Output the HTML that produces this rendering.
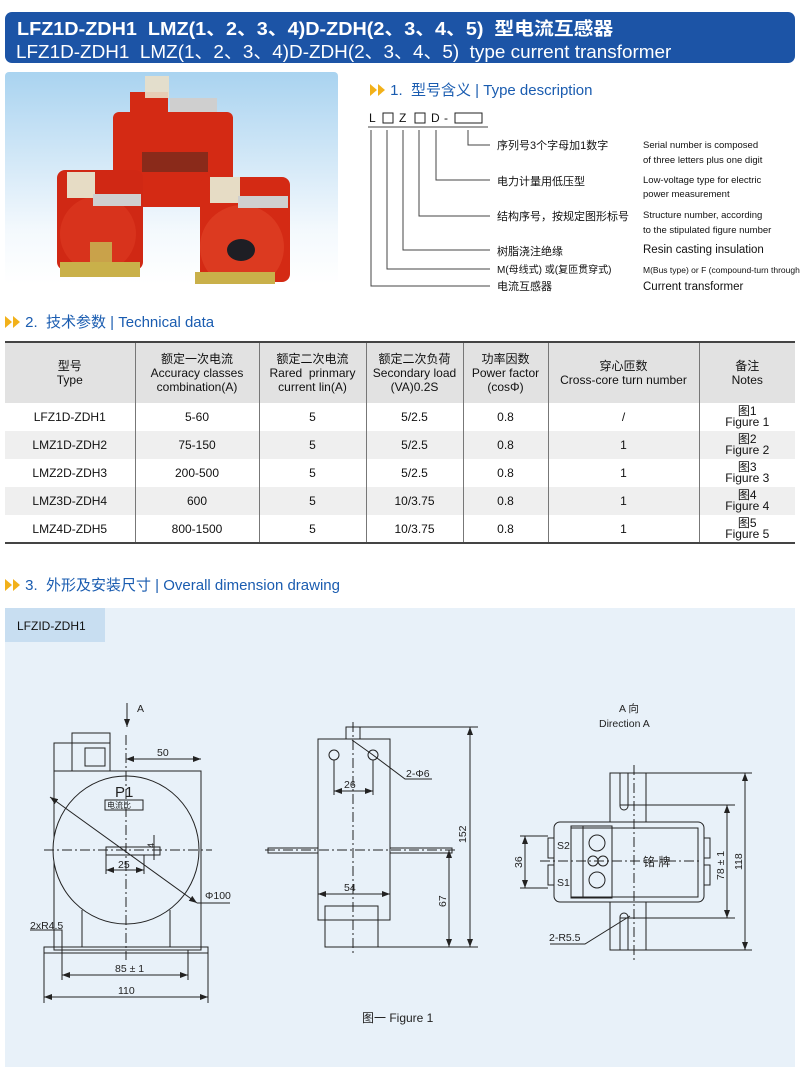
<!DOCTYPE html>
<html><head><meta charset="utf-8"><style>
body{margin:0;width:800px;height:1069px;background:#fff;position:relative;overflow:hidden;font-family:"Liberation Sans","Noto Sans CJK SC",sans-serif;}
.abs{position:absolute;}
.hdr{left:5px;top:12px;width:790px;height:51px;background:#1c54a6;border-radius:7px;color:#fff;}
.sec{color:#1a5cb0;font-size:15px;white-space:nowrap;}
.tri{display:inline-block;width:0;height:0;border-top:6px solid transparent;border-bottom:6px solid transparent;border-left:7px solid #f2b11a;margin-right:1px;vertical-align:-1px;}
table{border-collapse:collapse;font-size:12px;color:#111;}
td{text-align:center;border-left:1px solid #777;padding:0;line-height:14px;}
td:first-child{border-left:none;}
</style></head><body>
<div class="abs hdr">
<div class="abs" style="left:12px;top:3px;font-size:18px;font-weight:bold;white-space:nowrap;transform:scaleX(1.1);transform-origin:left;">LFZ1D-ZDH1&nbsp; LMZ(1、2、3、4)D-ZDH(2、3、4、5)&nbsp; 型电流互感器</div>
<div class="abs" style="left:11px;top:26px;font-size:18px;white-space:nowrap;transform:scaleX(1.05);transform-origin:left;">LFZ1D-ZDH1&nbsp; LMZ(1、2、3、4)D-ZDH(2、3、4、5)&nbsp; type current transformer</div>
</div>

<!-- photo -->
<svg class="abs" style="left:5px;top:72px" width="333" height="212">
<defs><linearGradient id="g" x1="0" y1="0" x2="0" y2="1"><stop offset="0" stop-color="#a9d3f0"/><stop offset="0.75" stop-color="#f4f9fd"/><stop offset="1" stop-color="#fff"/></linearGradient></defs>
<rect width="333" height="212" rx="4" fill="url(#g)"/>
<rect x="108" y="40" width="120" height="95" rx="6" fill="#d42a14"/>
<rect x="125" y="20" width="38" height="24" fill="#d42a14"/>
<rect x="140" y="4" width="24" height="22" fill="#e9dfc8" opacity=".9"/>
<rect x="165" y="26" width="47" height="14" fill="#cfcfcf"/>
<rect x="137" y="80" width="66" height="20" fill="#8a2a1a"/>
<rect x="52" y="98" width="86" height="100" rx="8" fill="#d02814"/>
<circle cx="93" cy="162" r="38" fill="#d8331c"/>
<rect x="62" y="100" width="28" height="26" fill="#e6dcc5"/>
<rect x="88" y="122" width="48" height="12" fill="#cfcfcf"/>
<rect x="85" y="170" width="22" height="22" fill="#c9a24a"/>
<rect x="55" y="190" width="80" height="15" fill="#c9b04a"/>
<rect x="195" y="105" width="90" height="105" rx="8" fill="#d42a14"/>
<circle cx="237" cy="175" r="42" fill="#dc3a20"/>
<ellipse cx="236" cy="178" rx="14" ry="11" fill="#1e1e24"/>
<rect x="205" y="105" width="30" height="26" fill="#e6dcc5"/>
<rect x="233" y="124" width="50" height="12" fill="#cfcfcf"/>
<rect x="190" y="200" width="80" height="12" fill="#c9b04a"/>
</svg>

<div class="abs sec" style="left:370px;top:79px;"><span class="tri"></span><span class="tri"></span> 1.&nbsp; 型号含义 | Type description</div>

<svg class="abs" style="left:360px;top:105px" width="440" height="195" font-family="Liberation Sans, Noto Sans CJK SC, sans-serif">
<g font-size="12" fill="#111">
<text x="9" y="17">L</text><rect x="23" y="8" width="10" height="10" fill="none" stroke="#222"/>
<text x="39" y="17">Z</text><rect x="55" y="8" width="10" height="10" fill="none" stroke="#222"/>
<text x="71" y="17">D</text><text x="84" y="17">-</text>
<rect x="95" y="8" width="27" height="10" fill="none" stroke="#222"/>
</g>
<g stroke="#444" fill="none" stroke-width="1">
<line x1="8" y1="22" x2="128" y2="22"/>
<polyline points="108,25 108,40 130,40"/>
<polyline points="76,25 76,75 130,75"/>
<polyline points="59,25 59,111 130,111"/>
<polyline points="43,25 43,145 130,145"/>
<polyline points="27,25 27,164 130,164"/>
<polyline points="11,25 11,181 130,181"/>
</g>
<g font-size="11" fill="#111">
<text x="137" y="44">序列号3个字母加1数字</text>
<text x="137" y="80">电力计量用低压型</text>
<text x="137" y="115">结构序号，按规定图形标号</text>
<text x="137" y="150">树脂浇注绝缘</text>
<text x="137" y="168" font-size="10">M(母线式) 或(复匝贯穿式)</text>
<text x="137" y="185">电流互感器</text>
</g>
<g font-size="9.5" fill="#111">
<text x="283" y="43">Serial number is composed</text>
<text x="283" y="58">of three letters plus one digit</text>
<text x="283" y="78">Low-voltage type for electric</text>
<text x="283" y="92">power measurement</text>
<text x="283" y="113">Structure number, according</text>
<text x="283" y="128">to the stipulated figure number</text>
<text x="283" y="148" font-size="11.5">Resin casting insulation</text>
<text x="283" y="168" font-size="8.5">M(Bus type) or F (compound-turn through type)</text>
<text x="283" y="185" font-size="11.5">Current transformer</text>
</g>
</svg>

<div class="abs sec" style="left:5px;top:311px;"><span class="tri"></span><span class="tri"></span> 2.&nbsp; 技术参数 | Technical data</div>

<table class="abs" style="left:5px;top:341px;width:790px;border-top:2px solid #444;border-bottom:2px solid #444;">
<colgroup><col style="width:130px"><col style="width:124px"><col style="width:107px"><col style="width:97px"><col style="width:85px"><col style="width:151px"><col style="width:96px"></colgroup>
<tr style="height:61px;background:#e2e2e2;"><td>型号<br>Type</td><td>额定一次电流<br>Accuracy classes<br>combination(A)</td><td>额定二次电流<br>Rared&nbsp; prinmary<br>current lin(A)</td><td>额定二次负荷<br>Secondary load<br>(VA)0.2S</td><td>功率因数<br>Power factor<br>(cosΦ)</td><td>穿心匝数<br>Cross-core turn number</td><td>备注<br>Notes</td></tr>
<tr style="height:28px;background:#fff"><td>LFZ1D-ZDH1</td><td>5-60</td><td>5</td><td>5/2.5</td><td>0.8</td><td>/</td><td style="line-height:11px">图1<br>Figure 1</td></tr>
<tr style="height:28px;background:#efefef"><td>LMZ1D-ZDH2</td><td>75-150</td><td>5</td><td>5/2.5</td><td>0.8</td><td>1</td><td style="line-height:11px">图2<br>Figure 2</td></tr>
<tr style="height:28px;background:#fff"><td>LMZ2D-ZDH3</td><td>200-500</td><td>5</td><td>5/2.5</td><td>0.8</td><td>1</td><td style="line-height:11px">图3<br>Figure 3</td></tr>
<tr style="height:28px;background:#efefef"><td>LMZ3D-ZDH4</td><td>600</td><td>5</td><td>10/3.75</td><td>0.8</td><td>1</td><td style="line-height:11px">图4<br>Figure 4</td></tr>
<tr style="height:28px;background:#fff"><td>LMZ4D-ZDH5</td><td>800-1500</td><td>5</td><td>10/3.75</td><td>0.8</td><td>1</td><td style="line-height:11px">图5<br>Figure 5</td></tr>
</table>

<div class="abs sec" style="left:5px;top:574px;"><span class="tri"></span><span class="tri"></span> 3.&nbsp; 外形及安装尺寸 | Overall dimension drawing</div>

<svg class="abs" style="left:0;top:0" width="800" height="1069" font-family="Liberation Sans, Noto Sans CJK SC, sans-serif">
<defs><marker id="a" markerWidth="8" markerHeight="6" refX="8" refY="3" orient="auto-start-reverse"><path d="M0,0 L8,3 L0,6z" fill="#222"/></marker></defs>
<rect x="5" y="608" width="790" height="459" fill="#e8f1f9"/>
<rect x="5" y="608" width="100" height="34" fill="#c8def1"/>
<text x="17" y="630" font-size="12" fill="#111">LFZID-ZDH1</text>
<g stroke="#222" fill="none" stroke-width="1">
<!-- left view -->
<line x1="127" y1="703" x2="127" y2="727" marker-end="url(#a)"/>
<rect x="54" y="743" width="56" height="28"/>
<rect x="72" y="733" width="38" height="38"/>
<rect x="85" y="748" width="20" height="18"/>
<polyline points="54,771 54,950 201,950 201,771 54,771"/>
<line x1="82" y1="910" x2="82" y2="947"/><line x1="170" y1="910" x2="170" y2="947"/>
<rect x="44" y="947" width="164" height="6"/>
<ellipse cx="126" cy="850" rx="73" ry="74" fill="#e8f1f9"/>
<rect x="106" y="847" width="54" height="8"/>
<line x1="44" y1="850" x2="212" y2="850" stroke-dasharray="10,3,2,3"/>
<line x1="126" y1="735" x2="126" y2="960" stroke-dasharray="10,3,2,3"/>
<line x1="126" y1="759" x2="201" y2="759" marker-start="url(#a)" marker-end="url(#a)"/>
<line x1="106" y1="870" x2="144" y2="870" marker-start="url(#a)" marker-end="url(#a)"/>
<line x1="106" y1="855" x2="106" y2="874"/><line x1="144" y1="855" x2="144" y2="874"/>
<line x1="154" y1="835" x2="154" y2="860"/>
<line x1="50" y1="797" x2="197" y2="903" marker-start="url(#a)" marker-end="url(#a)"/>
<line x1="197" y1="903" x2="230" y2="903"/>
<line x1="62" y1="940" x2="62" y2="980"/><line x1="188" y1="950" x2="188" y2="980"/>
<line x1="62" y1="975" x2="188" y2="975" marker-start="url(#a)" marker-end="url(#a)"/>
<line x1="44" y1="953" x2="44" y2="1003"/><line x1="208" y1="953" x2="208" y2="1003"/>
<line x1="44" y1="997" x2="208" y2="997" marker-start="url(#a)" marker-end="url(#a)"/>
<polyline points="30,930 62,930 62,945"/>
<rect x="105" y="800" width="38" height="10"/>
<!-- middle view -->
<rect x="318" y="739" width="72" height="181"/>
<rect x="346" y="727" width="14" height="12"/>
<rect x="268" y="848" width="50" height="5"/><rect x="390" y="848" width="62" height="5"/>
<rect x="325" y="906" width="53" height="41"/>
<circle cx="334" cy="755" r="5"/><circle cx="373" cy="755" r="5"/>
<line x1="353" y1="722" x2="353" y2="955" stroke-dasharray="10,3,2,3"/>
<line x1="265" y1="850" x2="455" y2="850" stroke-dasharray="10,3,2,3"/>
<line x1="334" y1="760" x2="334" y2="795"/><line x1="373" y1="760" x2="373" y2="795"/>
<line x1="334" y1="791" x2="373" y2="791" marker-start="url(#a)" marker-end="url(#a)"/>
<line x1="318" y1="894" x2="390" y2="894" marker-start="url(#a)" marker-end="url(#a)"/>
<line x1="360" y1="727" x2="478" y2="727"/><line x1="325" y1="947" x2="478" y2="947"/>
<line x1="470" y1="727" x2="470" y2="947" marker-start="url(#a)" marker-end="url(#a)"/>
<line x1="449" y1="850" x2="449" y2="947" marker-start="url(#a)" marker-end="url(#a)"/>
<polyline points="352,740 373,755 405,779 432,779"/>
<!-- right view -->
<rect x="610" y="773" width="36" height="177"/>
<path d="M620,773 V806 A4,4 0 0 0 628,806 V773" />
<path d="M620,950 V917 A4,4 0 0 1 628,917 V950" />
<rect x="554" y="822" width="150" height="80" rx="6" fill="#e8f1f9"/>
<rect x="571" y="828" width="127" height="69"/>
<rect x="571" y="826" width="41" height="72"/>
<rect x="583" y="826" width="29" height="72"/>
<rect x="704" y="838" width="6" height="20"/><rect x="704" y="865" width="6" height="20"/>
<rect x="548" y="838" width="6" height="20"/><rect x="548" y="865" width="6" height="20"/>
<circle cx="597" cy="843" r="8"/><circle cx="597" cy="880" r="8"/>
<circle cx="593" cy="861" r="5"/><circle cx="603" cy="861" r="5"/>
<line x1="634" y1="765" x2="634" y2="960" stroke-dasharray="10,3,2,3"/>
<line x1="540" y1="861" x2="700" y2="861" stroke-dasharray="10,3,2,3"/>
<line x1="520" y1="836" x2="548" y2="836"/><line x1="520" y1="888" x2="548" y2="888"/>
<line x1="525" y1="836" x2="525" y2="888" marker-start="url(#a)" marker-end="url(#a)"/>
<line x1="620" y1="805" x2="735" y2="805"/><line x1="620" y1="918" x2="735" y2="918"/>
<line x1="727" y1="805" x2="727" y2="918" marker-start="url(#a)" marker-end="url(#a)"/>
<line x1="646" y1="773" x2="752" y2="773"/><line x1="646" y1="950" x2="752" y2="950"/>
<line x1="745" y1="773" x2="745" y2="950" marker-start="url(#a)" marker-end="url(#a)"/>
<polyline points="550,944 585,944 630,916"/>
</g>
<g fill="#222" font-size="10.5">
<text x="137" y="712">A</text>
<text x="157" y="756">50</text>
<text x="115" y="797" font-size="15">P1</text>
<text x="107" y="808" font-size="8">电流比</text>
<text x="144" y="842" font-size="9" transform="rotate(-90 152 840)">4</text>
<text x="118" y="868">25</text>
<text x="205" y="899">Φ100</text>
<text x="30" y="929">2xR4.5</text>
<text x="115" y="972">85 ± 1</text>
<text x="118" y="994">110</text>
<text x="344" y="788">26</text>
<text x="406" y="777">2-Φ6</text>
<text x="344" y="891">54</text>
<text transform="translate(466,843) rotate(-90)">152</text>
<text transform="translate(446,907) rotate(-90)">67</text>
<text x="619" y="712">A 向</text>
<text x="599" y="727">Direction A</text>
<text x="557" y="849">S2</text><text x="557" y="886">S1</text>
<text x="643" y="866" font-size="12">铭  牌</text>
<text transform="translate(522,868) rotate(-90)">36</text>
<text transform="translate(724,880) rotate(-90)">78 ± 1</text>
<text transform="translate(742,870) rotate(-90)">118</text>
<text x="549" y="941">2-R5.5</text>
<text x="362" y="1022" font-size="12">图一  Figure 1</text>
</g>
</svg>
</body></html>
